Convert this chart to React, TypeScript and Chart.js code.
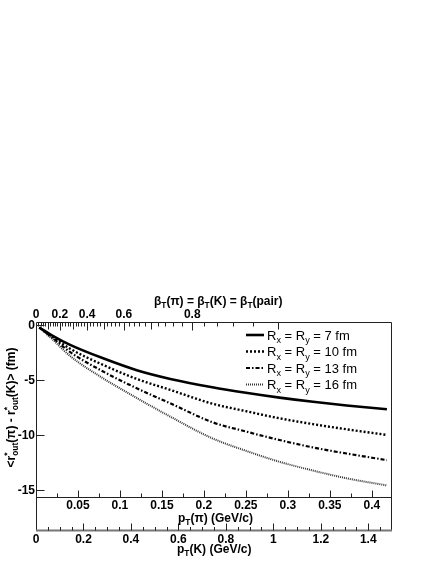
import React, { useEffect, useRef } from 'react';
import { Chart, registerables } from 'chart.js';

Chart.register(...registerables);

const M_PI = 0.13957;
const M_K = 0.49368;
const PT_K_MAX = 1.5;
const PT_PI_MAX = (PT_K_MAX * M_PI) / M_K;

// data: pT(pi) in GeV/c, difference in fm
const PT_PI = [0.004, 0.02, 0.04, 0.08, 0.12, 0.16, 0.21, 0.25, 0.29, 0.33, 0.37, 0.418];
const RADII = [7, 10, 13, 16];
const R7 = [-0.2, -0.95, -1.75, -3.0, -4.08, -4.87, -5.63, -6.13, -6.57, -6.95, -7.28, -7.63];
const R10 = [-0.2, -1.05, -2.1, -3.6, -4.87, -5.87, -7.12, -7.8, -8.45, -8.98, -9.45, -9.96];
const R13 = [-0.2, -1.15, -2.4, -4.2, -5.72, -7.09, -8.8, -9.65, -10.42, -11.1, -11.65, -12.25];
const R16 = [-0.2, -1.3, -2.75, -4.82, -6.6, -8.3, -10.27, -11.4, -12.4, -13.2, -13.9, -14.55];

const PI_TICKS = [0.05, 0.1, 0.15, 0.2, 0.25, 0.3, 0.35, 0.4];
const PI_LABELS = ['0.05', '0.1', '0.15', '0.2', '0.25', '0.3', '0.35', '0.4'];
const K_TICKS = [0, 0.2, 0.4, 0.6, 0.8, 1.0, 1.2, 1.4];
const K_LABELS = ['0', '0.2', '0.4', '0.6', '0.8', '1', '1.2', '1.4'];
const BETA_TICKS = [0, 0.2, 0.4, 0.6, 0.8];
const BETA_LABELS = ['0', '0.2', '0.4', '0.6', '0.8'];
const Y_TICKS = [0, -5, -10, -15];
const Y_LABELS = ['0', '-5', '-10', '-15'];

const FAMILY = '"Liberation Sans", Arial, Helvetica, sans-serif';
const betaToPK = (b: number) => (M_K * b) / Math.sqrt(1 - b * b);

type Seg = { text: string; sub?: string; sup?: string };
const fnt = (size: number, weight: string) => `${weight} ${size}px ${FAMILY}`;

function richWidth(ctx: CanvasRenderingContext2D, segs: Seg[], size: number, weight: string) {
  let w = 0;
  for (const s of segs) {
    ctx.font = fnt(size, weight);
    w += ctx.measureText(s.text).width;
    ctx.font = fnt(size * 0.7, weight);
    const a = s.sub ? ctx.measureText(s.sub).width : 0;
    const b = s.sup ? ctx.measureText(s.sup).width : 0;
    w += Math.max(a, b);
  }
  return w;
}

function drawRich(ctx: CanvasRenderingContext2D, segs: Seg[], x: number, y: number, size: number, weight: string) {
  ctx.textAlign = 'left';
  ctx.textBaseline = 'alphabetic';
  for (const s of segs) {
    ctx.font = fnt(size, weight);
    ctx.fillText(s.text, x, y);
    x += ctx.measureText(s.text).width;
    ctx.font = fnt(size * 0.7, weight);
    let adv = 0;
    if (s.sup) {
      ctx.fillText(s.sup, x, y - size * 0.42);
      adv = Math.max(adv, ctx.measureText(s.sup).width);
    }
    if (s.sub) {
      ctx.fillText(s.sub, x, y + size * 0.28);
      adv = Math.max(adv, ctx.measureText(s.sub).width);
    }
    x += adv;
  }
}

const decor = {
  id: 'decor',
  afterDraw(chart: any) {
    const { ctx, chartArea: a, scales } = chart;
    const xPi = scales.x;
    const xK = scales.xk;
    const xB = scales.xb;
    const y = scales.y;
    const L = Math.round(a.left) + 0.5;
    const R = Math.round(a.right) - 0.5;
    const T = Math.round(a.top) + 0.5;
    const M = Math.round(a.bottom) + 0.5;
    const B = Math.round(xK.top) + 0.5;
    ctx.save();
    ctx.strokeStyle = '#222';
    ctx.lineWidth = 1;
    ctx.beginPath();
    ctx.moveTo(L, T); ctx.lineTo(R, T); ctx.lineTo(R, B);
    ctx.moveTo(L, T); ctx.lineTo(L, B);
    ctx.moveTo(L, M); ctx.lineTo(R, M);
    ctx.stroke();
    ctx.strokeStyle = '#777';
    ctx.lineWidth = 2;
    ctx.beginPath();
    ctx.moveTo(L - 0.5, B); ctx.lineTo(R + 0.5, B);
    ctx.stroke();

    ctx.strokeStyle = '#222';
    ctx.lineWidth = 1;
    ctx.beginPath();
    // y ticks (inward)
    for (const v of Y_TICKS) {
      const py = Math.round(y.getPixelForValue(v)) + 0.5;
      ctx.moveTo(L, py); ctx.lineTo(L + 8, py);
    }
    // pT(pi) ticks (upward)
    for (let i = 1; i * 0.025 < PT_PI_MAX; i++) {
      const v = i * 0.025;
      const px = Math.round(xPi.getPixelForValue(v)) + 0.5;
      const len = i % 2 === 0 ? 7 : 4;
      ctx.moveTo(px, M); ctx.lineTo(px, M - len);
    }
    // pT(K) ticks (upward)
    for (let i = 1; i * 0.05 < PT_K_MAX; i++) {
      const v = i * 0.05;
      const px = Math.round(xK.getPixelForValue(v)) + 0.5;
      const len = i % 4 === 0 ? 7 : 3.5;
      ctx.moveTo(px, B); ctx.lineTo(px, B - len);
    }
    // beta ticks (downward from top)
    for (let i = 1; i <= 45; i++) {
      const b = i * 0.02;
      const px = Math.round(xB.getPixelForValue(betaToPK(b))) + 0.5;
      const len = i % 10 === 0 ? 8 : i % 5 === 0 ? 7 : 4;
      ctx.moveTo(px, T); ctx.lineTo(px, T + len);
    }
    ctx.stroke();

    ctx.fillStyle = '#000';
    // axis titles
    drawRich(ctx, [{ text: 'β', sub: 'T' }, { text: '(π) = β', sub: 'T' }, { text: '(K) = β', sub: 'T' }, { text: '(pair)' }], 154, 305, 12, 'bold');
    drawRich(ctx, [{ text: 'p', sub: 'T' }, { text: '(π) (GeV/c)' }], 178, 522, 12, 'bold');
    drawRich(ctx, [{ text: 'p', sub: 'T' }, { text: '(K) (GeV/c)' }], 177, 553, 12, 'bold');
    const ySegs: Seg[] = [{ text: '<r', sup: '*', sub: 'out' }, { text: '(π) - r', sup: '*', sub: 'out' }, { text: '(K)> (fm)' }];
    const w = richWidth(ctx, ySegs, 12, 'bold');
    ctx.save();
    ctx.translate(15, (a.top + a.bottom) / 2 - 2);
    ctx.rotate(-Math.PI / 2);
    drawRich(ctx, ySegs, -w / 2, 0, 12, 'bold');
    ctx.restore();

    // legend
    chart.data.datasets.forEach((ds: any, i: number) => {
      const cy = 335 + i * 16.5;
      ctx.save();
      ctx.strokeStyle = ds.borderColor;
      ctx.lineWidth = ds.borderWidth;
      ctx.setLineDash(ds.borderDash || []);
      ctx.beginPath();
      ctx.moveTo(246, cy); ctx.lineTo(264, cy);
      ctx.stroke();
      ctx.restore();
      drawRich(ctx, [{ text: 'R', sub: 'x' }, { text: ' = R', sub: 'y' }, { text: ` = ${RADII[i]} fm` }], 267, cy + 4.5, 13, 'normal');
    });
    ctx.restore();
  },
};

const STYLES = [
  { color: '#000', width: 2.6, dash: [] as number[] },
  { color: '#000', width: 2.4, dash: [2, 2] },
  { color: '#000', width: 2.2, dash: [4, 2, 1.5, 2] },
  { color: '#333', width: 2, dash: [1, 1] },
];

export default function App() {
  const ref = useRef<HTMLCanvasElement | null>(null);
  useEffect(() => {
    if (!ref.current) return;
    const series = [R7, R10, R13, R16];
    const tickFont = { family: FAMILY, size: 12, weight: 'bold' as const };
    const chart = new Chart(ref.current, {
      type: 'line',
      data: {
        datasets: series.map((s, i) => ({
          label: `Rx = Ry = ${RADII[i]} fm`,
          data: PT_PI.map((x, j) => ({ x, y: s[j] })),
          borderColor: STYLES[i].color,
          borderWidth: STYLES[i].width,
          borderDash: STYLES[i].dash,
          pointRadius: 0,
          fill: false,
          cubicInterpolationMode: 'monotone' as const,
          xAxisID: 'x',
          yAxisID: 'y',
        })),
      },
      options: {
        animation: false,
        responsive: true,
        maintainAspectRatio: false,
        devicePixelRatio: 1,
        layout: { padding: { left: 0, right: 44, top: 0, bottom: 0 } },
        plugins: { legend: { display: false }, tooltip: { enabled: false } },
        scales: {
          x: {
            type: 'linear', position: 'bottom', min: 0, max: PT_PI_MAX, weight: 0,
            grid: { display: false, drawTicks: false }, border: { display: false },
            ticks: { font: tickFont, color: '#000', padding: 1, autoSkip: false, maxRotation: 0, minRotation: 0, callback: (_v: any, i: number) => PI_LABELS[i] },
            afterBuildTicks: (s: any) => { s.ticks = PI_TICKS.map((v) => ({ value: v })); },
            afterFit: (s: any) => { s.height = 33; },
          },
          xk: {
            type: 'linear', position: 'bottom', min: 0, max: PT_K_MAX, weight: 1,
            grid: { display: false, drawTicks: false }, border: { display: false },
            ticks: { font: tickFont, color: '#000', padding: 2, autoSkip: false, maxRotation: 0, minRotation: 0, callback: (_v: any, i: number) => K_LABELS[i] },
            afterBuildTicks: (s: any) => { s.ticks = K_TICKS.map((v) => ({ value: v })); },
            afterFit: (s: any) => { s.height = 34; },
          },
          xb: {
            type: 'linear', position: 'top', min: 0, max: PT_K_MAX,
            grid: { display: false, drawTicks: false }, border: { display: false },
            ticks: { font: tickFont, color: '#000', padding: 0, autoSkip: false, maxRotation: 0, minRotation: 0, callback: (_v: any, i: number) => BETA_LABELS[i] },
            afterBuildTicks: (s: any) => { s.ticks = BETA_TICKS.map((b) => ({ value: betaToPK(b) })); },
            afterFit: (s: any) => { s.height = 322; },
          },
          y: {
            type: 'linear', position: 'left', min: -15.6, max: 0.3,
            grid: { display: false, drawTicks: false }, border: { display: false },
            ticks: { font: tickFont, color: '#000', padding: 1, autoSkip: false, callback: (_v: any, i: number) => Y_LABELS[i] },
            afterBuildTicks: (s: any) => { s.ticks = Y_TICKS.map((v) => ({ value: v })); },
            afterFit: (s: any) => { s.width = 36; },
          },
        },
      } as any,
      plugins: [decor],
    });
    return () => chart.destroy();
  }, []);
  return (
    <div style={{ position: 'absolute', left: 0, top: 0, width: 436, height: 564, background: '#fff' }}>
      <canvas ref={ref} />
    </div>
  );
}
